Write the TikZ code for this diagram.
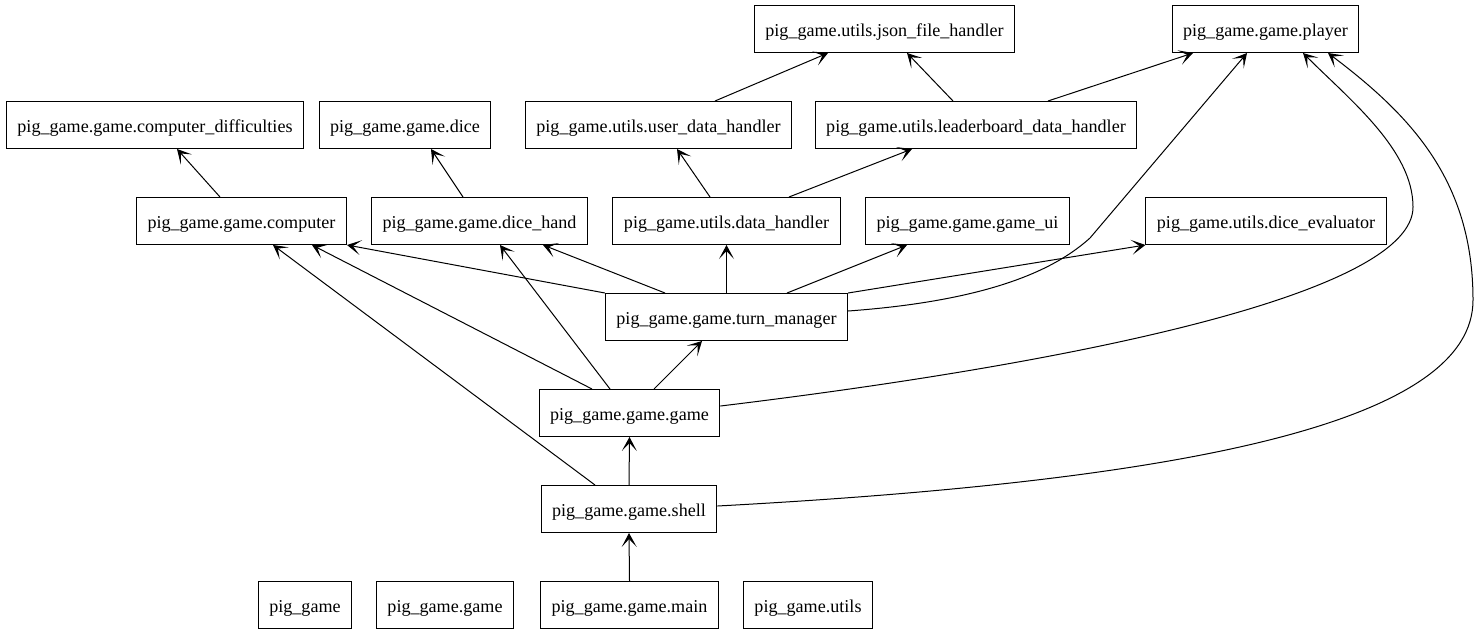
\documentclass[tikz,border=0pt]{standalone}
\usepackage{fontspec}
\setmainfont{Liberation Serif}
\usepackage{tikz}
\usetikzlibrary{arrows.meta}
\tikzstyle{mod} = [rectangle, minimum height=47pt, inner xsep=11pt, text height=15.5pt, text depth=0pt, text centered, draw=black, line width=1pt, fill=white, font=\fontsize{18.1}{22}\selectfont]
\tikzstyle{dep} = [line width=1pt, -{Stealth[length=14pt,width=15pt,inset=8pt]}]

\begin{document}
\begin{tikzpicture}[x=1pt,y=-1pt]

\useasboundingbox (0,0) rectangle (1479,635);

\node (json) [mod] at (884.5,29) {pig\_game.utils.json\_file\_handler};
\node (player) [mod] at (1265.5,29) {pig\_game.game.player};

\node (compdiff) [mod] at (155,125) {pig\_game.game.computer\_difficulties};
\node (dice) [mod] at (405,125) {pig\_game.game.dice};
\node (userdata) [mod] at (658.5,125) {pig\_game.utils.user\_data\_handler};
\node (leader) [mod] at (976,125) {pig\_game.utils.leaderboard\_data\_handler};

\node (computer) [mod] at (241.5,221) {pig\_game.game.computer};
\node (dicehand) [mod] at (479.5,221) {pig\_game.game.dice\_hand};
\node (data) [mod] at (726.5,221) {pig\_game.utils.data\_handler};
\node (gameui) [mod] at (967.5,221) {pig\_game.game.game\_ui};
\node (evaluator) [mod] at (1266,221) {pig\_game.utils.dice\_evaluator};

\node (turn) [mod] at (726.5,317) {pig\_game.game.turn\_manager};
\node (game) [mod] at (629.5,413) {pig\_game.game.game};
\node (shell) [mod] at (629,509) {pig\_game.game.shell};

\node (pkg) [mod] at (305,605) {pig\_game};
\node (pkggame) [mod] at (445,605) {pig\_game.game};
\node (main) [mod] at (629.5,605) {pig\_game.game.main};
\node (pkgutils) [mod] at (808,605) {pig\_game.utils};

\draw [dep] ([xshift=56.5pt]userdata.north) -- ([xshift=-56.5pt]json.south);
\draw [dep] ([xshift=-23pt]leader.north) -- ([xshift=22.5pt]json.south);
\draw [dep] ([xshift=72pt]leader.north) -- ([xshift=-72.5pt]player.south);

\draw [dep] ([xshift=-21.5pt]computer.north) -- ([xshift=22pt]compdiff.south);
\draw [dep] ([xshift=-16.5pt]dicehand.north) -- ([xshift=26pt]dice.south);
\draw [dep] ([xshift=-16.5pt]data.north) -- ([xshift=18.5pt]userdata.south);
\draw [dep] ([xshift=62.5pt]data.north) -- ([xshift=-64pt]leader.south);

\draw [dep] (turn.north west) -- (computer.south east);
\draw [dep] ([xshift=-61.5pt]turn.north) -- ([xshift=63.5pt]dicehand.south);
\draw [dep] (turn.north) -- (data.south);
\draw [dep] ([xshift=60.5pt]turn.north) -- ([xshift=-60.5pt]gameui.south);
\draw [dep] (turn.north east) -- (evaluator.south west);
\draw [dep] ([yshift=6pt]turn.east) .. controls (1000,300) and (1060,265) .. (1090,238) -- ([xshift=-18.5pt]player.south);

\draw [dep] ([xshift=24.5pt]game.north) -- ([xshift=-24.5pt]turn.south);
\draw [dep] ([xshift=-37.5pt]game.north) -- ([xshift=70.5pt]computer.south);
\draw [dep] ([xshift=-19.5pt]game.north) -- ([xshift=20.5pt]dicehand.south);
\draw [dep] ([yshift=7pt]game.east) .. controls (1100,360) and (1413,290) .. (1413,207) .. controls (1413,150) and (1350,100) .. ([xshift=37.5pt]player.south);

\draw [dep] (shell.north) -- (game.south);
\draw [dep] ([xshift=-34pt]shell.north) -- ([xshift=31.5pt]computer.south);
\draw [dep] ([yshift=3pt]shell.east) .. controls (1200,480) and (1473,420) .. (1473,300) .. controls (1473,180) and (1410,115) .. ([xshift=62.5pt]player.south);

\draw [dep] (main.north) -- (shell.south);

\end{tikzpicture}
\end{document}
